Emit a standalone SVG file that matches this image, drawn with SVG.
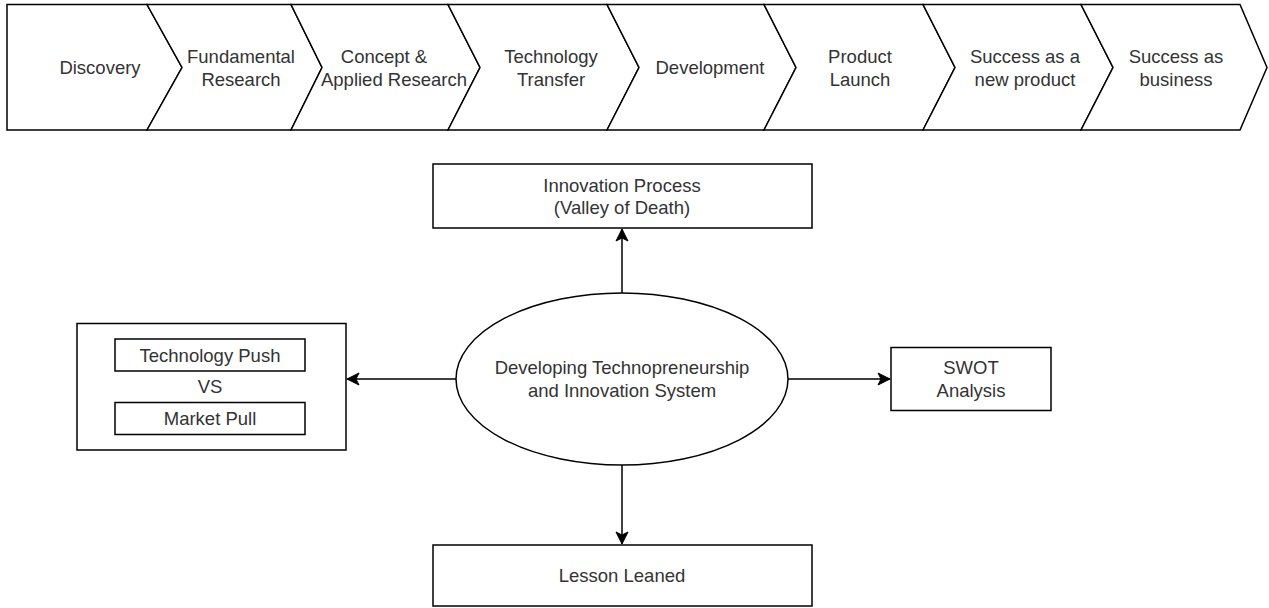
<svg xmlns="http://www.w3.org/2000/svg" width="1269" height="608" viewBox="0 0 1269 608">
<defs>
<style>
.s{fill:#fff;stroke:#000;stroke-width:1.5}
.t{font-family:"Liberation Sans",Arial,sans-serif;font-size:18.5px;fill:#333;text-anchor:middle}
.c{fill:none;stroke:#000;stroke-width:1.5}
</style>
<marker id="ah" viewBox="0 0 14 14" markerWidth="14" markerHeight="14" refX="13" refY="7" orient="auto" markerUnits="userSpaceOnUse">
<path d="M1,1 L13,7 L1,13 L4,7 Z" fill="#000" stroke="#000" stroke-width="1"/>
</marker>
</defs>
<rect width="1269" height="608" fill="#fff"/>
<g id="step1"><path class="s" d="M7,4.5 L147,4.5 L182,67.5 L147,130 L7,130 Z"/><text class="t" x="100" y="74">Discovery</text></g>
<g id="step2"><path class="s" d="M147,4.5 L291,4.5 L322,67.5 L291,130 L147,130 L182,67.5 Z"/><text class="t" x="241" y="63">Fundamental</text><text class="t" x="241" y="86">Research</text></g>
<g id="step3"><path class="s" d="M291,4.5 L448,4.5 L480,67.5 L448,130 L291,130 L322,67.5 Z"/><text class="t" x="384" y="63">Concept &amp;</text><text class="t" x="394" y="86">Applied Research</text></g>
<g id="step4"><path class="s" d="M448,4.5 L607,4.5 L639,67.5 L607,130 L448,130 L480,67.5 Z"/><text class="t" x="551" y="63">Technology</text><text class="t" x="551" y="86">Transfer</text></g>
<g id="step5"><path class="s" d="M607,4.5 L764,4.5 L796,67.5 L764,130 L607,130 L639,67.5 Z"/><text class="t" x="710" y="74">Development</text></g>
<g id="step6"><path class="s" d="M764,4.5 L923,4.5 L955,67.5 L923,130 L764,130 L796,67.5 Z"/><text class="t" x="860" y="63">Product</text><text class="t" x="860" y="86">Launch</text></g>
<g id="step7"><path class="s" d="M923,4.5 L1081,4.5 L1113,67.5 L1081,130 L923,130 L955,67.5 Z"/><text class="t" x="1025" y="63">Success as a</text><text class="t" x="1025" y="86">new product</text></g>
<g id="step8"><path class="s" d="M1081,4.5 L1240,4.5 L1267,67.5 L1240,130 L1081,130 L1113,67.5 Z"/><text class="t" x="1176" y="63">Success as</text><text class="t" x="1176" y="86">business</text></g>
<g id="connectors">
<line class="c" x1="622" y1="293" x2="622" y2="229" marker-end="url(#ah)"/>
<line class="c" x1="456" y1="379" x2="347" y2="379" marker-end="url(#ah)"/>
<line class="c" x1="788" y1="379" x2="890" y2="379" marker-end="url(#ah)"/>
<line class="c" x1="622" y1="465" x2="622" y2="544" marker-end="url(#ah)"/>
</g>
<g id="innovation"><rect class="s" x="433" y="164" width="379" height="64"/><text class="t" x="622" y="191.5">Innovation Process</text><text class="t" x="622" y="214">(Valley of Death)</text></g>
<g id="center"><ellipse class="s" cx="622" cy="379" rx="166" ry="86"/><text class="t" x="622" y="374">Developing Technopreneurship</text><text class="t" x="622" y="397">and Innovation System</text></g>
<g id="pushpull"><rect class="s" x="77" y="323.5" width="269" height="126.5"/>
<rect class="s" x="115" y="339" width="190" height="32"/><text class="t" x="210" y="361.5">Technology Push</text>
<text class="t" x="210" y="392.5">VS</text>
<rect class="s" x="115" y="402.5" width="190" height="32"/><text class="t" x="210" y="424.5">Market Pull</text></g>
<g id="swot"><rect class="s" x="891" y="347.5" width="160" height="63"/><text class="t" x="971" y="374">SWOT</text><text class="t" x="971" y="397">Analysis</text></g>
<g id="lesson"><rect class="s" x="433" y="545" width="379" height="61"/><text class="t" x="622" y="581.5">Lesson Leaned</text></g>
</svg>
